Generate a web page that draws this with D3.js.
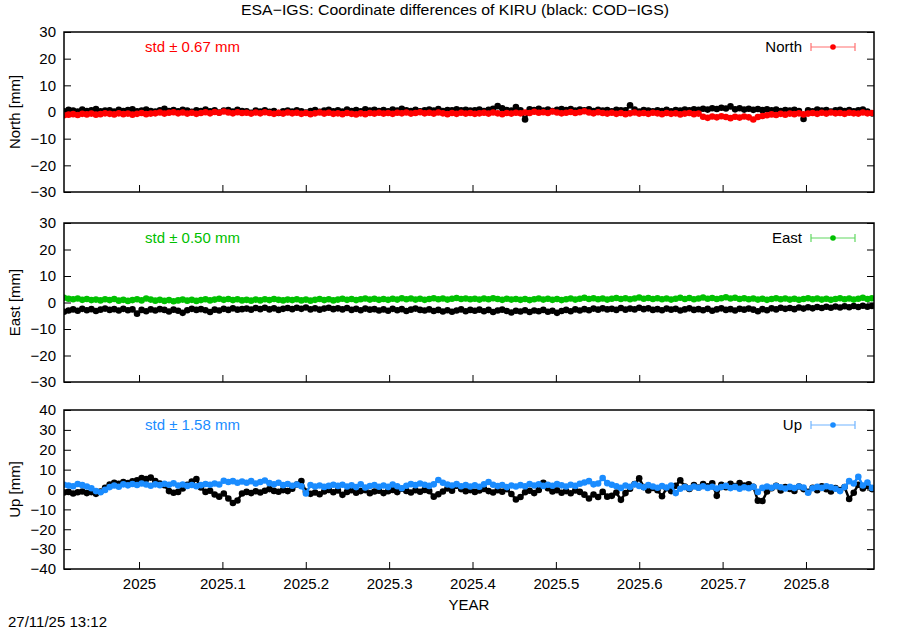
<!DOCTYPE html>
<html>
<head>
<meta charset="utf-8">
<script src="https://cdn.jsdelivr.net/npm/d3@7"></script>
<style>
  body { margin: 0; background: #fff; }
  svg text { font-family: "Liberation Sans", Arial, sans-serif; font-size: 15px; fill: #000; }
  .border { fill: none; stroke: #000; stroke-width: 1.5; }
  .tick line { stroke: #000; stroke-width: 1; }
  .domain { display: none; }
</style>
</head>
<body>
<svg id="chart" width="900" height="630"></svg>
<script>
// time grid: one value every two days
var startYear = 2024.910;
var stepYear = 2 / 365.25;

var northESA = [
  -1.2,-1.0,-0.8,-1.1,-0.7,-0.9,-0.6,-1.0,-0.8,-0.5,
  -0.7,-0.9,-0.5,-0.8,-0.6,-1.0,-0.7,-0.4,-0.8,-0.6,
  -0.5,-0.2,-0.6,-0.3,-0.1,-0.5,-0.2,-0.6,-0.3,-0.7,
  -0.4,-0.1,-0.5,0.0,-0.3,0.2,-0.2,-0.5,-0.1,-0.4,
  -0.3,-0.6,-0.2,-0.5,-0.1,-0.4,-0.7,-0.3,-0.6,-0.2,
  -0.5,-0.3,-0.7,-0.4,-0.8,-0.5,-0.2,-0.6,-0.3,-0.7,
  -0.5,-0.8,-0.4,-0.7,-0.9,-0.5,-0.8,-0.4,-0.6,-0.3,
  -0.6,-0.4,-0.7,-0.3,-0.5,-0.2,-0.6,-0.4,-0.1,-0.5,
  -0.3,-0.6,-0.2,-0.5,-0.8,-0.4,-0.7,-0.3,-0.6,-0.4,
  -0.7,-0.5,-0.3,-0.6,-0.2,-0.5,-0.8,-0.4,-0.6,-0.3,
  -0.5,-0.2,-0.4,0.1,-0.3,-0.1,-0.4,0.2,-0.2,-0.5,
  -0.3,0.0,-0.4,-0.1,0.3,-0.2,-0.5,-0.1,-0.4,-0.6,
  -0.3,-0.7,-0.4,-0.8,-0.5,-0.2,-0.6,-0.4,-0.7,-0.3,
  -0.5,-0.8,-0.4,-0.7,-0.5,-0.9,-0.6,-0.4,-0.8,-0.6,
  -1.8,-2.2,-1.7,-2.0,-1.6,-1.9,-2.3,-1.8,-2.1,-1.7,
  -2.0,-2.8,-1.9,-1.5,-1.2,-0.9,-1.1,-0.7,-1.0,-0.6,
  -0.8,-0.5,-0.9,-0.6,-0.4,-0.7,-0.3,-0.6,-0.2,-0.5,
  -0.4,-0.7,-0.3,-0.5,-0.6,-0.2,-0.5,-0.4
];
var northCOD = [
  0.3,0.8,0.5,0.2,0.9,0.4,0.6,1.1,0.3,0.5,
  0.6,0.2,0.8,0.4,0.7,1.0,0.3,0.5,0.9,0.4,
  0.2,0.6,1.2,0.4,0.7,0.3,0.8,0.5,0.1,0.6,
  0.4,0.9,0.3,0.6,-0.2,0.5,0.7,0.2,0.8,0.4,
  0.3,-0.3,0.5,0.2,0.6,0.1,0.4,-0.4,0.3,0.5,
  0.2,0.6,0.3,-0.2,0.4,0.7,0.1,0.5,0.8,0.3,
  0.6,0.2,0.9,0.4,0.7,0.3,1.0,0.5,0.8,0.4,
  0.7,0.3,0.9,0.5,1.2,0.6,0.4,0.8,0.3,0.6,
  0.9,0.5,1.1,0.4,0.7,0.6,1.0,0.6,0.8,0.5,
  0.6,0.9,0.4,0.8,1.2,2.2,1.4,0.7,0.5,1.9,
  0.6,-2.8,1.0,0.7,1.2,0.5,0.9,0.4,0.8,1.1,
  0.7,1.1,0.5,0.9,0.6,1.0,0.4,0.8,0.5,0.7,
  0.3,0.8,0.6,0.6,2.5,0.9,0.2,0.7,0.5,0.3,
  0.6,0.4,0.8,0.3,0.7,0.5,0.9,0.6,1.0,0.8,
  1.2,0.9,1.4,1.1,1.6,1.3,2.1,1.0,1.4,0.9,
  1.2,0.8,1.1,0.7,1.0,0.6,0.9,0.4,0.7,0.5,
  0.8,0.4,-2.6,0.6,0.3,0.9,0.5,0.7,0.2,0.6,
  0.8,0.4,0.7,0.3,0.6,0.9,0.2,-0.5
];

var eastESA = [
  1.8,1.4,1.2,1.5,1.0,1.3,0.9,1.1,0.8,1.2,
  0.9,1.3,0.7,1.0,0.6,0.9,1.2,0.8,1.5,1.1,
  0.7,1.0,0.6,0.9,0.5,0.8,1.1,0.7,1.0,0.6,
  0.9,1.2,0.8,1.1,1.4,1.0,1.3,0.9,1.2,0.8,
  1.0,0.7,1.1,0.8,1.2,0.9,1.3,1.0,0.8,1.1,
  0.9,1.2,0.8,1.1,0.7,1.0,1.3,0.9,1.2,0.8,
  1.1,1.4,1.0,1.3,0.9,1.2,1.5,1.1,1.4,1.0,
  1.3,1.0,1.4,1.1,1.6,1.2,1.5,1.1,1.4,1.0,
  1.3,1.6,1.2,1.5,1.1,1.4,1.7,1.3,1.5,1.2,
  1.4,1.1,1.5,1.2,1.6,1.3,1.0,1.4,1.1,1.3,
  1.0,1.3,0.9,1.2,1.5,1.1,1.4,1.0,1.3,0.9,
  1.2,1.5,1.1,1.4,1.8,1.3,1.6,1.2,1.5,1.1,
  1.4,1.7,1.3,1.6,1.2,1.5,1.9,1.4,1.7,1.3,
  1.6,1.2,1.5,1.1,1.4,1.8,1.3,1.7,1.2,1.5,
  1.9,1.4,1.7,1.3,1.6,2.0,1.5,1.8,1.3,1.6,
  1.2,1.5,1.1,1.4,1.0,1.3,1.6,1.2,1.5,1.1,
  1.4,1.0,1.3,1.6,1.2,1.5,1.1,1.4,1.0,1.3,
  1.6,1.2,1.5,1.1,1.4,1.8,1.3,1.6
];
var eastCOD = [
  -3.5,-3.0,-2.6,-3.1,-2.4,-2.9,-2.5,-3.2,-2.7,-2.3,
  -2.8,-2.5,-3.0,-2.4,-2.9,-2.6,-4.2,-2.8,-3.3,-2.6,
  -3.0,-2.5,-2.8,-3.4,-2.7,-3.1,-3.9,-2.9,-2.4,-2.8,
  -2.5,-2.9,-3.6,-2.7,-3.0,-2.4,-2.8,-2.2,-2.7,-2.5,
  -2.3,-2.7,-2.1,-2.5,-2.0,-2.6,-2.2,-2.8,-2.4,-2.1,
  -2.5,-2.0,-2.4,-1.9,-2.6,-2.2,-2.7,-2.3,-2.0,-2.5,
  -2.2,-2.6,-2.1,-2.8,-2.4,-2.9,-2.3,-2.7,-2.5,-3.0,
  -2.6,-3.1,-2.4,-2.9,-2.5,-3.2,-2.7,-2.3,-2.8,-3.0,
  -2.6,-3.2,-2.8,-3.4,-2.9,-3.5,-3.0,-2.6,-3.3,-2.8,
  -3.1,-2.7,-3.3,-2.8,-3.6,-3.0,-2.7,-3.2,-3.8,-3.1,
  -3.4,-2.9,-3.6,-3.0,-3.3,-2.8,-3.5,-3.1,-3.9,-3.2,
  -2.8,-3.3,-2.6,-3.0,-2.5,-2.9,-2.3,-2.7,-2.2,-2.6,
  -2.4,-2.8,-2.1,-2.7,-2.3,-2.6,-2.0,-2.5,-2.2,-2.8,
  -2.5,-2.9,-2.3,-2.7,-2.4,-3.0,-2.6,-2.2,-2.8,-2.5,
  -2.9,-2.4,-3.1,-2.6,-2.2,-2.8,-2.5,-3.0,-2.4,-2.7,
  -2.3,-2.7,-3.3,-2.5,-2.9,-2.2,-2.6,-2.0,-2.4,-2.1,
  -2.5,-1.9,-2.3,-1.8,-2.2,-1.7,-2.1,-1.6,-2.0,-1.5,
  -1.9,-1.4,-1.8,-1.3,-1.7,-1.2,-1.6,-1.3
];

var upESA = [
  2.4,2.0,1.6,2.8,2.2,1.5,0.6,-0.8,-1.4,-0.2,
  1.2,2.0,1.4,2.6,2.1,2.8,2.3,3.0,2.5,1.9,
  2.6,2.2,2.9,2.4,3.1,2.0,2.5,1.8,2.3,1.6,
  2.2,2.8,2.4,3.0,2.5,4.4,3.8,4.2,3.4,4.0,
  3.4,4.2,3.0,3.8,4.5,3.2,2.6,3.4,2.2,2.8,
  1.9,2.5,1.6,-2.0,2.3,1.5,2.0,1.3,1.8,2.4,
  1.8,2.4,1.5,2.1,1.2,2.6,1.0,1.7,2.3,1.4,
  2.0,1.3,2.5,1.6,0.6,1.9,2.7,2.2,3.0,2.4,
  1.8,2.6,4.8,3.4,2.5,2.0,2.7,1.6,2.3,1.5,
  2.1,1.4,2.6,3.8,2.4,1.7,2.3,1.2,2.0,1.5,
  2.2,1.6,2.8,2.0,2.6,1.8,2.4,1.9,2.7,2.1,
  1.5,2.4,1.8,2.9,3.5,4.2,2.6,3.0,5.8,3.2,
  2.4,1.6,0.8,2.0,1.3,2.6,1.8,1.1,2.2,1.5,
  0.9,1.7,1.0,2.0,-1.8,0.4,1.2,0.6,1.5,0.9,
  1.6,0.8,1.4,0.5,1.2,1.8,0.7,1.3,0.4,1.1,
  0.6,1.4,-1.2,0.8,1.5,0.9,1.7,1.1,0.5,1.3,
  0.7,1.5,1.0,-1.6,0.6,1.3,0.8,1.6,1.1,0.4,
  -0.8,1.2,4.2,3.0,6.4,2.0,3.5,0.8
];
var upCOD = [
  -1.5,-1.2,-2.0,-1.4,-1.0,-1.8,-1.3,-2.2,-1.0,0.8,
  2.5,3.4,2.9,3.8,3.2,4.1,4.6,5.8,5.2,6.0,
  4.3,3.0,2.2,-0.8,-1.6,-1.2,0.5,2.4,4.0,5.3,
  1.0,-1.2,-0.6,-2.5,-3.6,-2.0,-4.5,-6.8,-5.5,-2.0,
  -1.2,-1.8,-0.9,-1.5,-0.6,0.2,-0.7,-1.1,-0.3,-0.8,
  0.4,2.5,4.3,-1.0,-2.2,-1.5,-2.4,-1.0,-0.2,-1.4,
  -0.5,-2.7,-1.2,-0.4,-1.6,-0.8,-0.3,-1.9,-1.0,-0.6,
  -1.8,-0.9,-0.2,-1.3,0.4,-0.7,-1.5,-0.4,-1.1,-0.2,
  -0.8,-3.6,-2.4,-1.0,0.5,-0.6,1.9,0.2,-0.9,-0.3,
  -1.2,-0.5,0.3,-0.8,-1.5,-0.4,-1.1,0.2,-2.3,-5.0,
  -3.8,-1.4,-0.6,-1.8,-0.2,3.4,0.6,-1.0,-0.4,-1.6,
  -0.8,-1.9,-0.5,-1.2,-2.6,-4.5,-2.5,-3.8,-1.2,-3.6,
  -3.2,-1.5,-5.2,-1.8,0.4,2.8,5.6,1.2,-0.5,0.8,
  -0.4,-3.4,0.6,-0.8,1.9,4.6,1.5,0.3,2.2,1.0,
  2.8,1.6,3.1,-3.2,2.4,1.1,2.9,1.7,3.3,2.0,
  2.6,1.4,-5.6,-5.8,-1.0,0.6,1.8,-0.5,1.2,0.3,
  -0.7,1.5,0.2,-1.2,0.9,-0.4,1.6,0.1,-1.0,0.7,
  -0.3,1.2,-4.8,-1.6,2.4,0.5,1.8,0.2
];

var xTicks = [2025, 2025.1, 2025.2, 2025.3, 2025.4, 2025.5, 2025.6, 2025.7, 2025.8];
var stdLabels = ['std \u00b1 0.67 mm', 'std \u00b1 0.50 mm', 'std \u00b1 1.58 mm'];
var compNames = ['North', 'East', 'Up'];
var yDomains = [[-30, 30], [-30, 30], [-40, 40]];

var svg = d3.select('#chart');
var left = 64, right = 874;
var panelTops = [32, 223, 410], panelBottoms = [192, 382, 569];
var colors = ['#ff0000', '#00c000', '#1a8cff'];
var legendColors = ['#ff7070', '#60d860', '#70b4ff'];
var series = [[northESA, northCOD], [eastESA, eastCOD], [upESA, upCOD]];

var years = d3.range(northESA.length).map(function(i) { return startYear + i * stepYear; });

var x = d3.scaleLinear().domain([2024.9100, 2025.8816]).range([left, right]);

svg.append('text').attr('x', 455).attr('y', 15).attr('text-anchor', 'middle')
    .attr('textLength', 428).attr('lengthAdjust', 'spacingAndGlyphs')
    .text('ESA\u2212IGS: Coordinate differences of KIRU (black: COD\u2212IGS)');

function drawPanel(p) {
    var top = panelTops[p], bottom = panelBottoms[p];
    var y = d3.scaleLinear().domain(yDomains[p]).range([bottom, top]);
    var g = svg.append('g');
    var yt = d3.range(yDomains[p][0], yDomains[p][1] + 1, 10);

    g.append('g').attr('transform', 'translate(' + left + ',0)')
        .call(d3.axisLeft(y).tickValues(yt).tickSize(-7).tickPadding(8));
    g.append('g').attr('transform', 'translate(' + right + ',0)')
        .call(d3.axisRight(y).tickValues(yt).tickSize(-7).tickFormat(''));
    var xa = d3.axisBottom(x).tickValues(xTicks).tickSize(-7).tickPadding(9)
        .tickFormat(function(d) { return d3.format('.1f')(d).replace(/\.0$/, ''); });
    if (p < 2) xa.tickFormat('');
    g.append('g').attr('transform', 'translate(0,' + bottom + ')').call(xa);

    var clipId = 'clip' + p;
    svg.append('clipPath').attr('id', clipId).append('rect')
        .attr('x', left).attr('y', top).attr('width', right - left).attr('height', bottom - top);
    var plot = g.append('g').attr('clip-path', 'url(#' + clipId + ')');

    var line = d3.line().x(function(d, i) { return x(years[i]); }).y(function(d) { return y(d); });
    var order = [[series[p][1], '#000'], [series[p][0], colors[p]]];
    order.forEach(function(s) {
        plot.append('path').datum(s[0]).attr('d', line)
            .attr('fill', 'none').attr('stroke', s[1]).attr('stroke-width', 2.5);
        plot.selectAll(null).data(s[0]).enter().append('circle')
            .attr('cx', function(d, i) { return x(years[i]); })
            .attr('cy', function(d) { return y(d); })
            .attr('r', 3.3).attr('fill', s[1]);
    });

    g.append('rect').attr('class', 'border')
        .attr('x', left).attr('y', top).attr('width', right - left).attr('height', bottom - top);

    // std label and key
    var ky = top + 15;
    g.append('text').attr('x', 145).attr('y', ky + 5).style('fill', colors[p]).text(stdLabels[p]);
    g.append('text').attr('x', 802).attr('y', ky + 5).attr('text-anchor', 'end').text(compNames[p]);
    g.append('line').attr('x1', 811).attr('x2', 855).attr('y1', ky).attr('y2', ky)
        .attr('stroke', legendColors[p]).attr('stroke-width', 1.2);
    [811, 855].forEach(function(cx) {
        g.append('line').attr('x1', cx).attr('x2', cx).attr('y1', ky - 4).attr('y2', ky + 4)
            .attr('stroke', legendColors[p]).attr('stroke-width', 1.2);
    });
    g.append('circle').attr('cx', 833).attr('cy', ky).attr('r', 2.8).attr('fill', colors[p]);

    svg.append('text').attr('transform', 'translate(20,' + ((top + bottom) / 2) + ') rotate(-90)')
        .attr('text-anchor', 'middle').text(compNames[p] + ' [mm]');
}

[0, 1, 2].forEach(drawPanel);

svg.append('text').attr('x', 469).attr('y', 610).attr('text-anchor', 'middle').text('YEAR');
svg.append('text').attr('x', 8).attr('y', 627).text('27/11/25 13:12');
</script>
</body>
</html>
